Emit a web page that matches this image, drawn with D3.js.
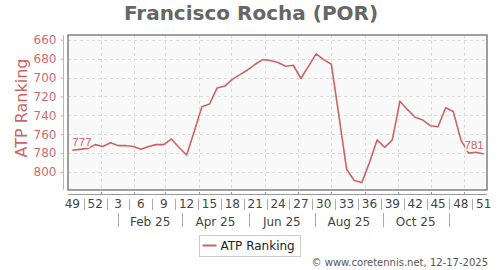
<!DOCTYPE html>
<html>
<head>
<meta charset="utf-8">
<script src="https://cdn.jsdelivr.net/npm/d3@7"></script>
<style>
  body { margin: 0; background: #fff; }
  svg { display: block; font-family: "DejaVu Sans", sans-serif; }
</style>
</head>
<body>
<svg id="chart" width="500" height="270"></svg>
<script>
const lineColor = "#cc6464";

//Weekly ranking dates and ranks
const rankingDates = [
  "2024-12-02", "2024-12-09", "2024-12-16", "2024-12-23", "2024-12-30",
  "2025-01-06", "2025-01-13", "2025-01-20", "2025-01-27", "2025-02-03",
  "2025-02-10", "2025-02-17", "2025-02-24", "2025-03-03", "2025-03-10",
  "2025-03-17", "2025-03-24", "2025-03-31", "2025-04-07", "2025-04-14",
  "2025-04-21", "2025-04-28", "2025-05-05", "2025-05-12", "2025-05-19",
  "2025-05-26", "2025-06-02", "2025-06-09", "2025-06-16", "2025-06-23",
  "2025-06-30", "2025-07-07", "2025-07-14", "2025-07-21", "2025-07-28",
  "2025-08-04", "2025-08-11", "2025-08-18", "2025-08-25", "2025-09-01",
  "2025-09-08", "2025-09-15", "2025-09-22", "2025-09-29", "2025-10-06",
  "2025-10-13", "2025-10-20", "2025-10-27", "2025-11-03", "2025-11-10",
  "2025-11-17", "2025-11-24", "2025-12-01", "2025-12-08", "2025-12-15",
];
const rankings = [
  777, 776, 775, 771, 773, 769, 772, 772, 773, 776,
  773, 771, 771, 765, 774, 782, 757, 731, 728, 711,
  709, 702, 697, 692, 686, 681, 682, 684, 688, 687,
  701, 688, 675, 681, 686, 741, 797, 809, 811, 790,
  766, 774, 766, 725, 734, 742, 745, 751, 752, 732,
  736, 766, 780, 779, 781,
];

//Tick labels
const yTicks = [660, 680, 700, 720, 740, 760, 780, 800];
const weekTickLabels = [
  "49", "52", "3", "6", "9", "12", "15", "18", "21", "24",
  "27", "30", "33", "36", "39", "42", "45", "48", "51",
];
const monthTickLabels = ["Feb 25", "Apr 25", "Jun 25", "Aug 25", "Oct 25"];
const monthSeparatorDates = [
  "2025-01-13", "2025-03-13", "2025-05-13", "2025-07-13", "2025-09-13", "2025-11-13",
];
const xDomain = ["2024-11-28", "2025-12-18"];
const yDomain = [655, 819];

document.addEventListener("DOMContentLoaded", () => {
  const parseDate = d3.timeParse("%Y-%m-%d");
  const dataset = rankingDates.map((d, i) => ({ date: parseDate(d), rank: rankings[i] }));

  const svg = d3.select("#chart");
  const plot = { left: 68, right: 487, top: 35, bottom: 190 };

  //Create xScale and yScale
  const xScale = d3
    .scaleTime()
    .domain(xDomain.map(parseDate))
    .range([plot.left, plot.right]);
  const yScale = d3
    .scaleLinear()
    .domain(yDomain)
    .range([plot.top, plot.bottom]);

  //Title
  svg
    .append("text")
    .attr("x", 251)
    .attr("y", 20)
    .attr("text-anchor", "middle")
    .attr("font-size", 20)
    .attr("font-weight", "bold")
    .attr("fill", "#666")
    .text("Francisco Rocha (POR)");

  //Plot background
  svg
    .append("rect")
    .attr("x", plot.left)
    .attr("y", plot.top)
    .attr("width", plot.right - plot.left)
    .attr("height", plot.bottom - plot.top)
    .attr("fill", "#f9f9f9");

  //Grid lines (month grid sits a few days before the 1st, as in the original)
  const monthGrid = d3
    .timeMonth
    .range(parseDate("2025-01-01"), parseDate("2025-12-02"))
    .map((d) => d3.timeDay.offset(d, -4));

  const grid = svg
    .append("g")
    .attr("stroke", "#dcdcdc")
    .attr("stroke-dasharray", "3,3")
    .attr("stroke-width", 1);
  grid
    .selectAll(".vgrid")
    .data(monthGrid)
    .enter()
    .append("line")
    .attr("x1", (d) => Math.round(xScale(d)) + 0.5)
    .attr("x2", (d) => Math.round(xScale(d)) + 0.5)
    .attr("y1", plot.top)
    .attr("y2", plot.bottom);
  grid
    .selectAll(".hgrid")
    .data(yTicks)
    .enter()
    .append("line")
    .attr("x1", plot.left)
    .attr("x2", plot.right)
    .attr("y1", (d) => Math.round(yScale(d)) + 0.5)
    .attr("y2", (d) => Math.round(yScale(d)) + 0.5);

  //Y axis
  const yAxis = d3.axisLeft(yScale).tickValues(yTicks).tickSize(3).tickPadding(4);
  const yAxisG = svg
    .append("g")
    .attr("transform", `translate(${63.5},0)`)
    .call(yAxis);
  yAxisG.select(".domain").attr("d", `M0,${plot.top}V${plot.bottom}`).attr("stroke", "#e2a8a8");
  yAxisG.selectAll(".tick line").attr("stroke", "#e2a8a8");
  yAxisG
    .selectAll(".tick text")
    .attr("fill", "#d06c6c")
    .attr("font-size", 12)
    .attr("font-family", "DejaVu Sans, sans-serif");

  svg
    .append("text")
    .attr("transform", `translate(${27},${108}) rotate(-90)`)
    .attr("text-anchor", "middle")
    .attr("font-size", 16)
    .attr("fill", lineColor)
    .text("ATP Ranking");

  //X axis line with small month ticks
  const xAxisG = svg.append("g").attr("stroke", "#999");
  xAxisG
    .append("line")
    .attr("x1", plot.left)
    .attr("x2", plot.right)
    .attr("y1", 194.5)
    .attr("y2", 194.5);
  xAxisG
    .selectAll(".mtick")
    .data(monthGrid)
    .enter()
    .append("line")
    .attr("x1", (d) => Math.round(xScale(d)) + 0.5)
    .attr("x2", (d) => Math.round(xScale(d)) + 0.5)
    .attr("y1", 192)
    .attr("y2", 194.5);

  //Week labels, one every three ranking weeks
  const weekTicks = weekTickLabels.map((label, i) => ({
    label,
    x: xScale(dataset[i * 3].date),
  }));
  svg
    .append("g")
    .selectAll("text")
    .data(weekTicks)
    .enter()
    .append("text")
    .attr("x", (d) => d.x)
    .attr("y", 208)
    .attr("text-anchor", "middle")
    .attr("font-size", 12)
    .attr("fill", "#444")
    .text((d) => d.label);
  svg
    .append("g")
    .attr("stroke", "#aaa")
    .selectAll("line")
    .data(d3.pairs(weekTicks))
    .enter()
    .append("line")
    .attr("x1", ([a, b]) => Math.round((a.x + b.x) / 2) + 0.5)
    .attr("x2", ([a, b]) => Math.round((a.x + b.x) / 2) + 0.5)
    .attr("y1", 199)
    .attr("y2", 210);

  //Month labels between separators
  const monthSeps = monthSeparatorDates.map((d) => xScale(parseDate(d)));
  svg
    .append("g")
    .attr("stroke", "#aaa")
    .selectAll("line")
    .data(monthSeps)
    .enter()
    .append("line")
    .attr("x1", (d) => Math.round(d) + 0.5)
    .attr("x2", (d) => Math.round(d) + 0.5)
    .attr("y1", 213)
    .attr("y2", 227);
  svg
    .append("g")
    .selectAll("text")
    .data(monthTickLabels)
    .enter()
    .append("text")
    .attr("x", (d, i) => (monthSeps[i] + monthSeps[i + 1]) / 2)
    .attr("y", 226)
    .attr("text-anchor", "middle")
    .attr("font-size", 12)
    .attr("fill", "#444")
    .text((d) => d);

  //Ranking line
  const line = d3
    .line()
    .x((d) => xScale(d.date))
    .y((d) => yScale(d.rank));
  svg
    .append("path")
    .datum(dataset)
    .attr("d", line)
    .attr("fill", "none")
    .attr("stroke", lineColor)
    .attr("stroke-width", 1.6)
    .attr("stroke-linejoin", "round");

  //First and last value labels
  const first = dataset[0];
  const last = dataset[dataset.length - 1];
  const endLabels = [
    { d: first, anchor: "start", dy: -4 },
    { d: last, anchor: "end", dy: -5 },
  ];
  svg
    .append("g")
    .selectAll("text")
    .data(endLabels)
    .enter()
    .append("text")
    .attr("x", (e) => xScale(e.d.date))
    .attr("y", (e) => yScale(e.d.rank) + e.dy)
    .attr("text-anchor", (e) => e.anchor)
    .attr("font-family", "Liberation Sans, sans-serif")
    .attr("font-size", 11.5)
    .attr("fill", lineColor)
    .attr("stroke", "#f9f9f9")
    .attr("stroke-width", 3)
    .attr("paint-order", "stroke")
    .text((e) => e.d.rank);

  //Plot frame
  svg
    .append("rect")
    .attr("x", plot.left)
    .attr("y", plot.top)
    .attr("width", plot.right - plot.left)
    .attr("height", plot.bottom - plot.top)
    .attr("fill", "none")
    .attr("stroke", "#808080")
    .attr("stroke-width", 1.5);

  //Legend
  const legend = svg.append("g").attr("transform", `translate(${199.5},${235.5})`);
  legend
    .append("rect")
    .attr("width", 101)
    .attr("height", 21)
    .attr("fill", "#fff")
    .attr("stroke", "#ccc");
  legend
    .append("line")
    .attr("x1", 3)
    .attr("x2", 17)
    .attr("y1", 10)
    .attr("y2", 10)
    .attr("stroke", lineColor)
    .attr("stroke-width", 2);
  legend
    .append("text")
    .attr("x", 21)
    .attr("y", 14.5)
    .attr("font-size", 12)
    .attr("fill", "#222")
    .text("ATP Ranking");

  //Credit line
  svg
    .append("text")
    .attr("x", 488)
    .attr("y", 266)
    .attr("text-anchor", "end")
    .attr("font-size", 10)
    .attr("fill", "#555")
    .text("© www.coretennis.net, 12-17-2025");
});
</script>
</body>
</html>
